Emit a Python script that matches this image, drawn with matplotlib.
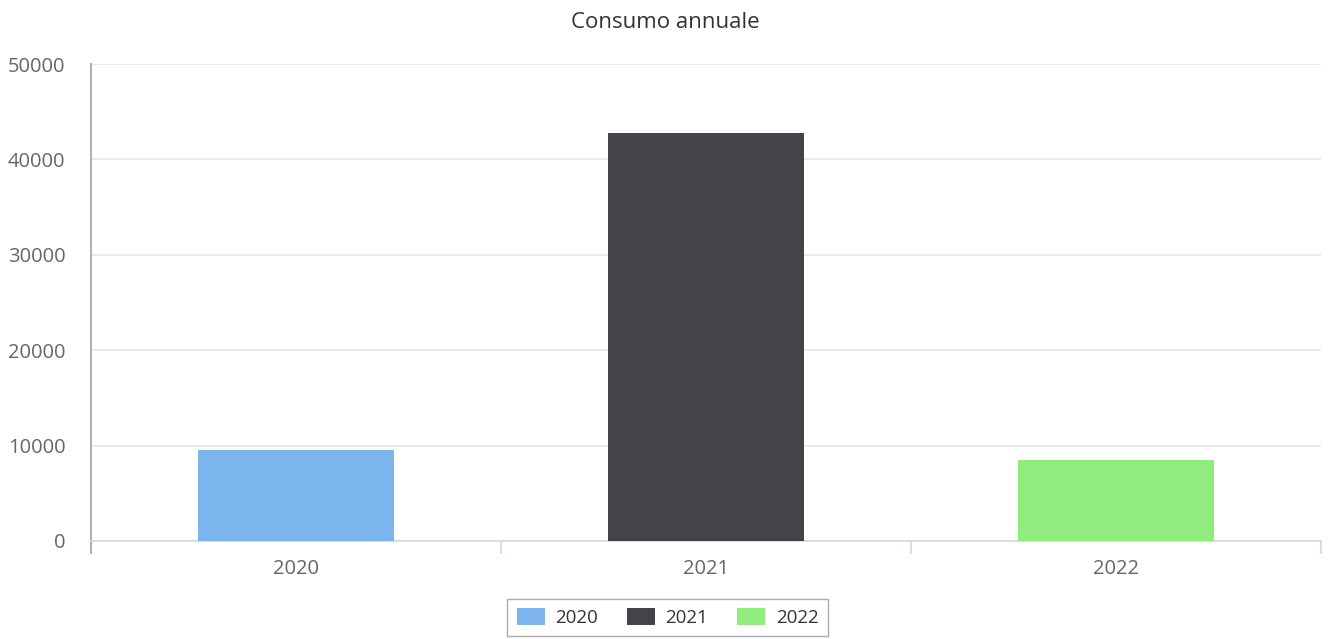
import matplotlib
matplotlib.use("Agg")
import matplotlib.pyplot as plt
from matplotlib.patches import Patch

categories = ["2020", "2021", "2022"]
values = [9540, 42750, 8480]
colors = ["#7cb5ec", "#434348", "#90ed7d"]
yticks = [0, 10000, 20000, 30000, 40000, 50000]
title = "Consumo annuale"

plt.rcParams['font.family'] = ['Open Sans', 'DejaVu Sans']

W, H = 1331, 639
fig = plt.figure(figsize=(W / 100, H / 100), dpi=100)
ax = fig.add_axes([91 / W, 1 - 541 / H, (1321 - 91) / W, (541 - 64) / H])

x = list(range(len(categories)))
ax.bar(x, values, width=0.476, color=colors, zorder=3)

ax.set_xlim(-0.5, len(categories) - 0.5)
ax.set_ylim(0, 50000)
ax.set_yticks(yticks)
ax.set_yticklabels([str(v) for v in yticks])
ax.set_xticks(x)
ax.set_xticklabels(categories)
ax.set_xticks([-0.5, 0.5, 1.5, 2.5], minor=True)

for v in yticks[1:]:
    ax.axhline(v, color="#e6e6e6", lw=1.2, zorder=1)

for s in ["top", "right"]:
    ax.spines[s].set_visible(False)
ax.spines["bottom"].set_color("#ccd6eb")
ax.spines["bottom"].set_linewidth(1.2)
ax.spines["left"].set_color("#b0b0b0")
ax.spines["left"].set_linewidth(1.5)
ax.spines["left"].set_bounds(-1250, 50000)

ax.tick_params(axis="y", length=0, pad=18.5, labelsize=14.5, labelcolor="#666666")
ax.tick_params(axis="x", which="major", length=0, pad=13, labelsize=14.5, labelcolor="#666666")
ax.tick_params(axis="x", which="minor", length=9, width=1.2, color="#ccd6eb")

fig.text(665 / W, 1 - 23 / H, title, ha="center", va="center", fontsize=16, color="#333333")

handles = [Patch(facecolor=c, edgecolor="none") for c in colors]
leg = fig.legend(handles, categories, loc="center", bbox_to_anchor=(667.5 / W, 1 - 617.5 / H),
                 ncol=3, fontsize=13.5, frameon=True, fancybox=False, edgecolor="#999999",
                 handlelength=1.5, handleheight=1.0, columnspacing=1.55, handletextpad=0.55,
                 borderpad=0.5, labelcolor="#333333")
leg.get_frame().set_linewidth(1.0)

fig.savefig("out.png", dpi=100)
